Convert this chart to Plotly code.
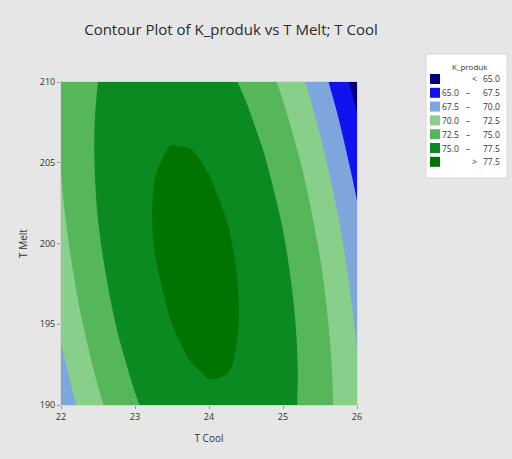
import plotly.graph_objects as go

# Grid
t_cool = [22.0, 22.25, 22.5, 22.75, 23.0, 23.25, 23.5, 23.75, 24.0,
          24.25, 24.5, 24.75, 25.0, 25.25, 25.5, 25.75, 26.0]
t_melt = [190, 192, 194, 196, 198, 200, 202, 204, 206, 208, 210]

# K_produk estimates (rows follow t_melt, columns follow t_cool)
k_produk = [
    [68.39, 70.35, 72.06, 73.53, 74.76, 75.74, 76.48, 76.97, 77.21, 77.22, 76.97, 76.48, 75.75, 74.77, 73.54, 72.08, 70.36],
    [69.28, 71.17, 72.82, 74.22, 75.38, 76.30, 76.97, 77.39, 77.57, 77.51, 77.20, 76.64, 75.84, 74.79, 73.50, 71.97, 70.19],
    [70.06, 71.89, 73.47, 74.81, 75.91, 76.75, 77.36, 77.71, 77.83, 77.69, 77.32, 76.69, 75.83, 74.71, 73.36, 71.75, 69.91],
    [70.75, 72.51, 74.03, 75.30, 76.32, 77.10, 77.64, 77.93, 77.98, 77.78, 77.33, 76.65, 75.71, 74.53, 73.11, 71.44, 69.53],
    [71.33, 73.02, 74.47, 75.68, 76.64, 77.35, 77.82, 78.05, 78.03, 77.76, 77.25, 76.49, 75.49, 74.25, 72.76, 71.02, 69.04],
    [71.81, 73.44, 74.82, 75.96, 76.85, 77.50, 77.90, 78.06, 77.97, 77.64, 77.06, 76.24, 75.17, 73.86, 72.30, 70.50, 68.45],
    [72.19, 73.75, 75.06, 76.13, 76.96, 77.54, 77.88, 77.97, 77.81, 77.42, 76.77, 75.88, 74.75, 73.37, 71.75, 69.88, 67.76],
    [72.46, 73.95, 75.20, 76.21, 76.97, 77.48, 77.75, 77.77, 77.55, 77.09, 76.38, 75.42, 74.22, 72.78, 71.09, 69.15, 66.97],
    [72.63, 74.06, 75.24, 76.18, 76.87, 77.32, 77.52, 77.48, 77.19, 76.66, 75.88, 74.86, 73.59, 72.08, 70.32, 68.32, 66.07],
    [72.70, 74.06, 75.17, 76.04, 76.67, 77.05, 77.19, 77.08, 76.73, 76.13, 75.28, 74.19, 72.86, 71.28, 69.46, 67.39, 65.08],
    [72.66, 73.95, 75.00, 75.81, 76.37, 76.68, 76.75, 76.58, 76.16, 75.49, 74.58, 73.42, 72.02, 70.38, 68.49, 66.35, 63.97],
]

levels = [65.0, 67.5, 70.0, 72.5, 75.0, 77.5]
legend_labels = [("", "<", "65.0"), ("65.0", "–", "67.5"), ("67.5", "–", "70.0"),
                 ("70.0", "–", "72.5"), ("72.5", "–", "75.0"), ("75.0", "–", "77.5"),
                 ("", ">", "77.5")]
band_colors = ["#00007a", "#1212ee", "#7fa6dc", "#88d08a", "#56b65a", "#0b8a22", "#007400"]

# stepwise colorscale (7 bands)
n = len(band_colors)
colorscale = []
edges = [0.0] + [(2 * k + 1) / 12 for k in range(n - 1)] + [1.0]
for k, c in enumerate(band_colors):
    colorscale.append([edges[k], c])
    colorscale.append([edges[k + 1], c])

fig = go.Figure()
fig.add_trace(go.Contour(
    x=t_cool, y=t_melt, z=k_produk,
    contours=dict(start=levels[0], end=levels[-1], size=2.5, coloring="fill", showlines=False),
    colorscale=colorscale,
    line=dict(width=0, smoothing=1.0),
    showscale=False,
    hoverinfo="skip",
))

W, H = 512, 459
L, R, T, B = 61, 357, 82, 405


def px(x):
    return (x - L) / (R - L)


def py(y):
    return (B - y) / (B - T)


shapes = []
annotations = []
# legend box
shapes.append(dict(type="rect", xref="paper", yref="paper",
                   x0=px(426), x1=px(507), y0=py(178), y1=py(54),
                   line=dict(color="#d8d8d8", width=1), fillcolor="white", layer="above"))
annotations.append(dict(xref="paper", yref="paper", x=px(470), y=py(66), text="K_produk",
                        showarrow=False, xanchor="center", yanchor="middle",
                        font=dict(size=8, color="#333333")))
row0, step = 79, 13.8
for i, (lo, sym, hi) in enumerate(legend_labels):
    yc = row0 + i * step
    shapes.append(dict(type="rect", xref="paper", yref="paper",
                       x0=px(430), x1=px(440), y0=py(yc + 5), y1=py(yc - 5),
                       line=dict(width=0), fillcolor=band_colors[i], layer="above"))
    if lo:
        annotations.append(dict(xref="paper", yref="paper", x=px(461), y=py(yc), text=lo,
                                showarrow=False, xanchor="right", yanchor="middle",
                                font=dict(size=8.5, color="#333333")))
    annotations.append(dict(xref="paper", yref="paper", x=px(468 if sym == "–" else 474), y=py(yc),
                            text=sym, showarrow=False, xanchor="center", yanchor="middle",
                            font=dict(size=8.5, color="#333333")))
    annotations.append(dict(xref="paper", yref="paper", x=px(502), y=py(yc), text=hi,
                            showarrow=False, xanchor="right", yanchor="middle",
                            font=dict(size=8.5, color="#333333")))

fig.update_layout(
    width=W, height=H,
    margin=dict(l=L, r=W - R, t=T, b=H - B, pad=0),
    paper_bgcolor="#e6e6e6",
    plot_bgcolor="#e6e6e6",
    font=dict(family="Open Sans, Noto Sans, sans-serif", color="#333333"),
    title=dict(text="Contour Plot of K_produk vs T Melt; T Cool", xref="container", x=231 / W,
               xanchor="center", y=1 - 30 / H, yanchor="middle",
               font=dict(size=15, color="#2a2a2a")),
    xaxis=dict(title=dict(text="T Cool", font=dict(size=10), standoff=13),
               range=[22, 26], tickvals=[22, 23, 24, 25, 26], ticks="outside", ticklen=3,
               tickcolor="#999999", tickfont=dict(size=9), showgrid=False, zeroline=False,
               showline=True, linecolor="#d6d6d6", mirror=True),
    yaxis=dict(title=dict(text="T Melt", font=dict(size=10), standoff=10),
               range=[190, 210], tickvals=[190, 195, 200, 205, 210], ticks="outside", ticklen=3,
               tickcolor="#999999", tickfont=dict(size=9), showgrid=False, zeroline=False,
               showline=True, linecolor="#d6d6d6", mirror=True),
    shapes=shapes,
    annotations=annotations,
    showlegend=False,
)

fig.write_html("out.html", config={"displayModeBar": False},
               post_script="document.body.style.margin='0';")
